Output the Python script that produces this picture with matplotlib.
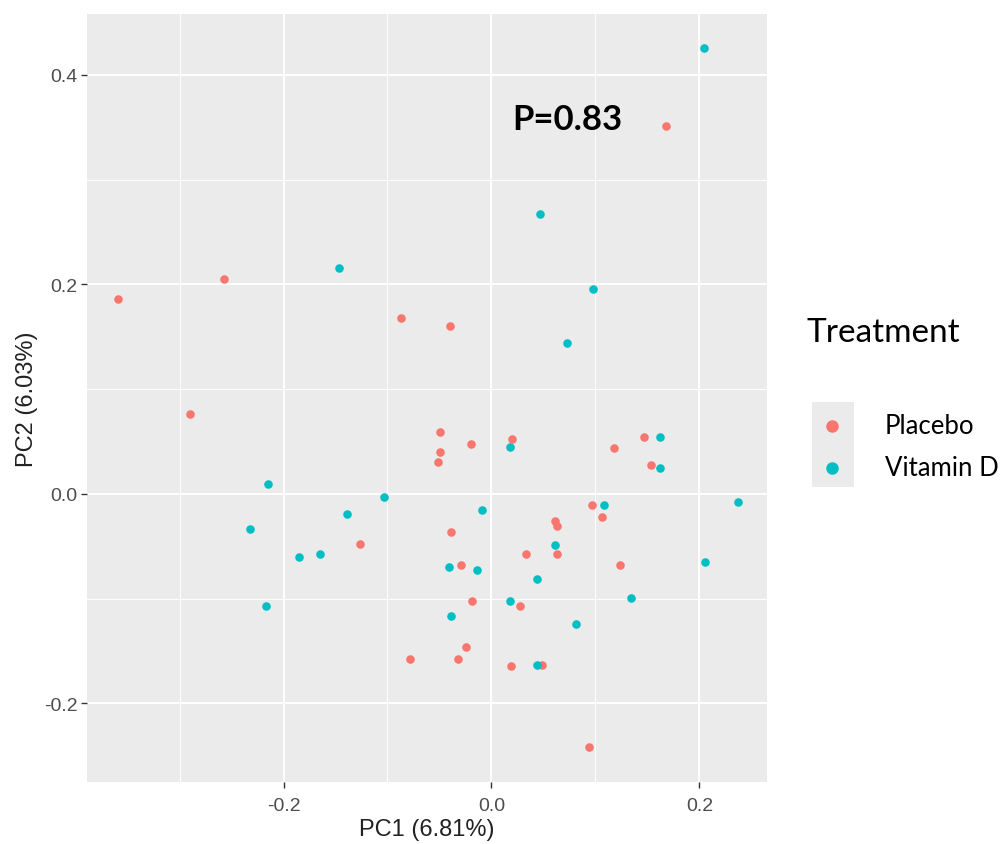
import matplotlib.pyplot as plt
import numpy as np

# PCA scores
placebo_x = [-0.359, -0.257, -0.087, -0.040, -0.290, -0.0495, -0.020, -0.0495, -0.051,
             -0.039, -0.126, -0.029, -0.019, -0.0245, -0.078, -0.032, 0.020, 0.147,
             0.118, 0.153, 0.097, 0.1065, 0.061, 0.063, 0.063, 0.033, 0.1235, 0.027,
             0.019, 0.0485, 0.0935, 0.168]
placebo_y = [0.186, 0.205, 0.168, 0.160, 0.076, 0.059, 0.048, 0.040, 0.030,
             -0.036, -0.048, -0.068, -0.102, -0.146, -0.158, -0.158, 0.052, 0.054,
             0.044, 0.028, -0.011, -0.022, -0.026, -0.031, -0.057, -0.057, -0.068, -0.107,
             -0.164, -0.163, -0.242, 0.351]

vitd_x = [-0.147, -0.215, -0.103, -0.009, -0.139, -0.232, -0.185, -0.165, -0.041,
          -0.014, -0.217, -0.039, 0.0175, 0.162, 0.162, 0.237, 0.108, 0.061,
          0.205, 0.044, 0.134, 0.0175, 0.081, 0.044, 0.204, 0.047, 0.098, 0.073]
vitd_y = [0.216, 0.009, -0.003, -0.015, -0.019, -0.034, -0.060, -0.057, -0.070,
          -0.073, -0.107, -0.117, 0.045, 0.054, 0.025, -0.008, -0.011, -0.049,
          -0.065, -0.081, -0.099, -0.102, -0.124, -0.163, 0.426, 0.267, 0.196, 0.144]

groups = ['Placebo', 'Vitamin D']
colors = ['#F8766D', '#00BFC4']

W, H = 1004, 845
fig = plt.figure(figsize=(W / 100, H / 100), dpi=100)
ax = fig.add_axes([87 / W, (H - 783) / H, 680 / W, 768 / H])

ax.set_facecolor('#EBEBEB')
for s in ax.spines.values():
    s.set_visible(False)

ax.set_xlim(-0.389, 0.265)
ax.set_ylim(-0.275, 0.458)
ax.set_xticks([-0.2, 0.0, 0.2])
ax.set_yticks([-0.2, 0.0, 0.2, 0.4])
ax.set_xticks([-0.3, -0.1, 0.1], minor=True)
ax.set_yticks([-0.1, 0.1, 0.3], minor=True)
ax.grid(which='major', color='white', lw=1.4)
ax.grid(which='minor', color='white', lw=0.7)
ax.set_axisbelow(True)
ax.tick_params(which='major', length=4, width=1, color='#333333',
               labelcolor='#4D4D4D', labelsize=14)
ax.tick_params(axis='x', which='major', pad=7)
ax.tick_params(axis='y', which='major', pad=3)
ax.tick_params(which='minor', length=0)
ax.set_xticklabels(['-0.2', '0.0', '0.2'], family='Liberation Sans')
ax.set_yticklabels(['-0.2', '0.0', '0.2', '0.4'], family='Liberation Sans')

ax.scatter(placebo_x, placebo_y, s=38, color=colors[0], lw=0, zorder=3)
ax.scatter(vitd_x, vitd_y, s=38, color=colors[1], lw=0, zorder=3)

ax.set_xlabel('PC1 (6.81%)', family='Liberation Sans', fontsize=17, color='#222222', labelpad=3)
ax.set_ylabel('PC2 (6.03%)', family='Liberation Sans', fontsize=17, color='#222222', labelpad=4)

ax.text(0.0197, 0.358, 'P=0.83', family='Lato', fontweight='bold', fontsize=25,
        ha='left', va='center', color='black')

# legend drawn by hand in ggplot style
fig.text(807 / W, 1 - 333 / H, 'Treatment', family='Lato', fontsize=24, va='center', ha='left')
fig.patches.append(plt.Rectangle((812 / W, 1 - 488 / H), 42 / W, 85 / H,
                                 transform=fig.transFigure, color='#EBEBEB', lw=0))
for i, (g, c) in enumerate(zip(groups, colors)):
    yy = 1 - (427 + 42 * i) / H
    fig.lines.append(plt.Line2D([832 / W], [yy], transform=fig.transFigure,
                                marker='o', ms=9, color=c, mew=0))
    fig.text(885 / W, yy, g, family='Lato', fontsize=18.5, va='center', ha='left')

fig.savefig('out.png', dpi=100)
